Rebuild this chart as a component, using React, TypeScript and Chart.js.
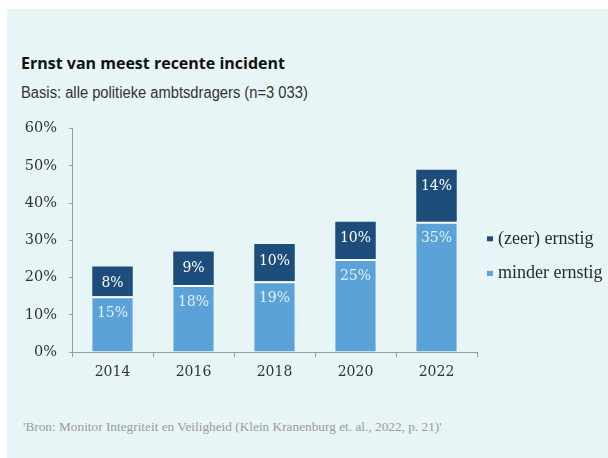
import { useEffect, useRef } from 'react';
import { Chart, registerables } from 'chart.js';

Chart.register(...registerables);

const years = ['2014', '2016', '2018', '2020', '2022'];
const minderErnstig = [15, 18, 19, 25, 35];
const zeerErnstig = [8, 9, 10, 10, 14];
const seriesNames = ['(zeer) ernstig', 'minder ernstig'];
const yMax = 60;
const yStep = 10;

const DARK = '#1d4d7b';
const LIGHT = '#5ba2d8';
const TICK_FONT = '"DejaVu Serif", serif';
const LEGEND_FONT = '"Liberation Serif", serif';

const barLabels = {
  id: 'barLabels',
  afterDatasetsDraw(chart: any) {
    const ctx = chart.ctx;
    ctx.save();
    ctx.font = `14px ${TICK_FONT}`;
    ctx.textAlign = 'center';
    ctx.textBaseline = 'middle';
    chart.data.datasets.forEach((ds: any, di: number) => {
      const meta = chart.getDatasetMeta(di);
      meta.data.forEach((bar: any, i: number) => {
        const { x, y } = bar.getProps(['x', 'y'], true);
        ctx.fillStyle = di === 0 ? '#e2f0fb' : '#ffffff';
        ctx.fillText(ds.data[i] + '%', x, y + 17);
      });
    });
    ctx.restore();
  },
};

const sideLegend = {
  id: 'sideLegend',
  afterDraw(chart: any) {
    const { ctx, chartArea } = chart;
    const h = chartArea.bottom - chartArea.top;
    const items = [
      { text: seriesNames[0], color: DARK, frac: 0.493 },
      { text: seriesNames[1], color: LIGHT, frac: 0.648 },
    ];
    ctx.save();
    ctx.font = `18px ${LEGEND_FONT}`;
    ctx.textAlign = 'left';
    ctx.textBaseline = 'middle';
    items.forEach((it) => {
      const cy = chartArea.top + h * it.frac;
      ctx.fillStyle = it.color;
      ctx.fillRect(chartArea.right + 10, cy - 2.5, 6, 5);
      ctx.fillStyle = '#2a2a2a';
      ctx.fillText(it.text, chartArea.right + 21, cy);
    });
    ctx.restore();
  },
};

export default function App() {
  const canvasRef = useRef<HTMLCanvasElement | null>(null);

  useEffect(() => {
    document.body.style.margin = '0';
    document.documentElement.style.overflow = 'hidden';
    if (!canvasRef.current) return;
    const chart = new Chart(canvasRef.current, {
      type: 'bar',
      data: {
        labels: years,
        datasets: [
          {
            label: seriesNames[1],
            data: minderErnstig,
            backgroundColor: LIGHT,
            borderColor: '#ffffff',
            borderWidth: { top: 2, left: 0, right: 0, bottom: 0 },
            borderSkipped: 'bottom',
            barPercentage: 0.5,
            categoryPercentage: 1,
          },
          {
            label: seriesNames[0],
            data: zeerErnstig,
            backgroundColor: DARK,
            borderWidth: 0,
            barPercentage: 0.5,
            categoryPercentage: 1,
          },
        ],
      },
      options: {
        animation: false,
        responsive: true,
        maintainAspectRatio: false,
        layout: { padding: { top: 17, right: 131, left: 0, bottom: 0 } },
        plugins: {
          legend: { display: false },
          tooltip: { enabled: false },
          title: { display: false },
        },
        scales: {
          x: {
            stacked: true,
            afterFit: (s: any) => {
              s.height = 40;
            },
            grid: {
              drawOnChartArea: false,
              drawTicks: true,
              tickLength: 5,
              color: '#9c9c9c',
              offset: true,
            },
            border: { display: true, color: '#9c9c9c', width: 1 },
            ticks: {
              color: '#333333',
              font: { family: TICK_FONT, size: 14 },
              padding: 7,
            },
          },
          y: {
            stacked: true,
            min: 0,
            max: yMax,
            afterFit: (s: any) => {
              s.width = 64;
            },
            grid: {
              drawOnChartArea: false,
              drawTicks: true,
              tickLength: 3,
              color: '#9c9c9c',
            },
            border: { display: true, color: '#9c9c9c', width: 1 },
            ticks: {
              stepSize: yStep,
              color: '#333333',
              font: { family: TICK_FONT, size: 14.5 },
              padding: 12,
              callback: (v: any) => v + '%',
            },
          },
        },
      },
      plugins: [barLabels, sideLegend],
    });
    return () => chart.destroy();
  }, []);

  return (
    <div
      style={{
        position: 'absolute',
        left: 7,
        top: 9,
        width: 601,
        height: 449,
        background: '#e8f5f6',
        overflow: 'hidden',
      }}
    >
      <div
        style={{
          position: 'absolute',
          left: 14,
          top: 46,
          fontFamily: '"Open Sans", sans-serif',
          fontWeight: 700,
          fontSize: 16,
          lineHeight: '16px',
          color: '#111111',
          whiteSpace: 'nowrap',
        }}
      >
        Ernst van meest recente incident
      </div>
      <div
        style={{
          position: 'absolute',
          left: 14,
          top: 76,
          fontFamily: '"Liberation Sans Narrow", "Liberation Sans", sans-serif',
          fontSize: 16,
          lineHeight: '16px',
          color: '#333333',
          whiteSpace: 'nowrap',
          transform: 'scaleX(0.92)',
          transformOrigin: 'left center',
        }}
      >
        Basis: alle politieke ambtsdragers (n=3 033)
      </div>
      <div style={{ position: 'absolute', left: 1, top: 99, width: 600, height: 284 }}>
        <canvas ref={canvasRef} />
      </div>
      <div
        style={{
          position: 'absolute',
          left: 16,
          top: 411,
          fontFamily: '"Liberation Serif", serif',
          fontSize: 13.3,
          lineHeight: '13px',
          color: '#9a9a9a',
          whiteSpace: 'nowrap',
        }}
      >
        'Bron: Monitor Integriteit en Veiligheid (Klein Kranenburg et. al., 2022, p. 21)'
      </div>
    </div>
  );
}
